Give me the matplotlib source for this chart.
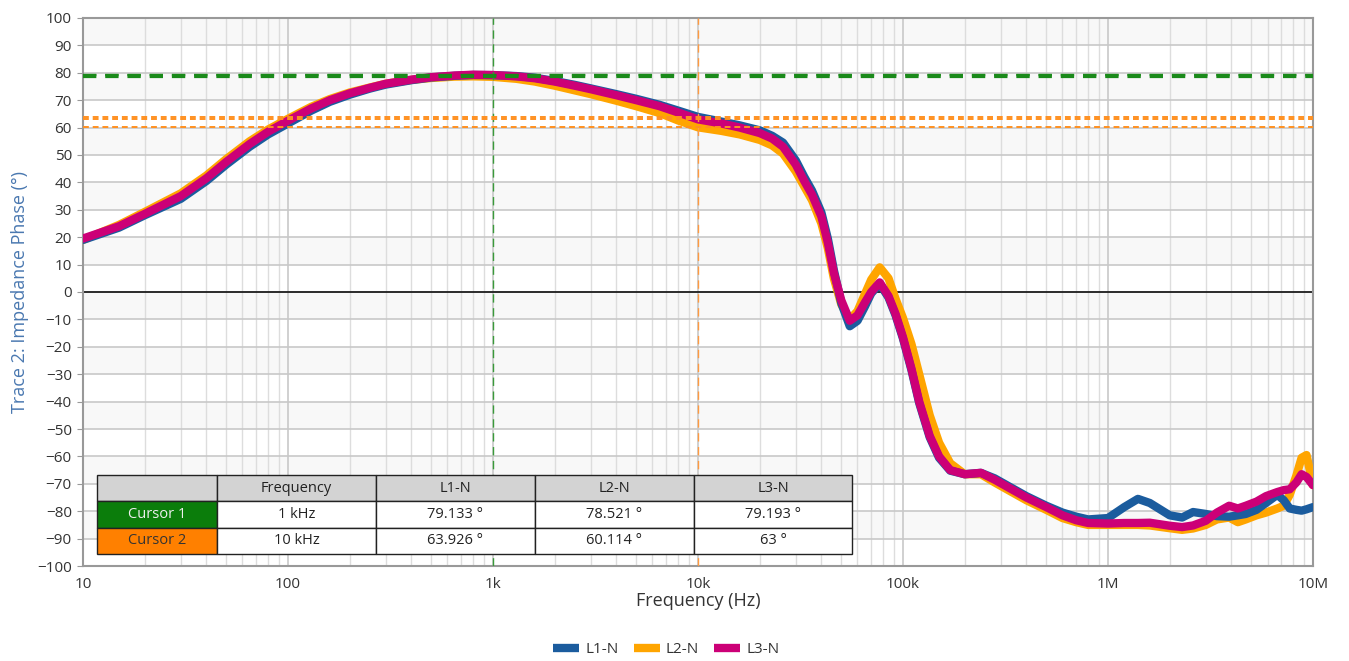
import matplotlib
matplotlib.use("Agg")
import matplotlib.pyplot as plt
from matplotlib.lines import Line2D
import numpy as np

# ---------------- data ----------------
freq_hz = [10, 15, 20, 30, 40, 50, 65, 80, 100, 130, 160, 200, 250, 300, 400, 500, 650, 800,
           1000, 1300, 1600, 2000, 2500, 3000, 4000, 5000, 6500, 8000, 10000, 13000, 16000,
           20000, 23000, 26000, 30000, 33000, 36000, 40000, 43000, 46000, 50000, 55000, 60000,
           65000, 70000, 77000, 85000, 92000, 100000, 110000, 120000, 135000, 150000, 170000,
           200000, 240000, 280000, 330000, 400000, 500000, 600000, 700000, 800000, 1000000,
           1200000, 1400000, 1600000, 2000000, 2300000, 2600000, 3000000, 3400000, 3900000,
           4300000, 4700000, 5300000, 5900000, 6700000, 7200000, 7700000, 8300000, 8800000,
           9300000, 10000000]

l1_phase = [19, 23.5, 28, 34, 40.5, 46.5, 53, 57.5, 61.5, 66.2, 69.4, 72, 74.2, 75.7, 77.3, 78.3,
            78.9, 79.2, 79.13, 78.8, 78.2, 77, 75.6, 74.3, 72.2, 70.5, 68.3, 66.2, 63.9, 62.2,
            60.8, 59, 57, 54.5, 48, 42, 37, 29, 19.5, 8, -4, -12.5, -10.5, -5.5, -0.5, 3,
            -2, -8.5, -17, -28.5, -40.5, -53, -60.5, -65.2, -66.5, -66, -68, -71, -74.5, -78,
            -80.5, -82, -83, -82.5, -78.5, -75.5, -77, -81.5, -82.3, -80.3, -81, -81.8, -82,
            -81.5, -81, -79.5, -77, -74, -76, -79, -79.5, -79.8, -79.3, -78.5]

l2_phase = [19, 24.5, 29.2, 36, 42.5, 48.5, 55, 59.3, 63.2, 67.6, 70.4, 72.8, 74.6, 76, 77.4,
            78.1, 78.6, 78.7, 78.52, 77.8, 76.8, 75.3, 73.6, 72.2, 69.8, 67.8, 65.3, 62.6, 60.1,
            58.8, 57.5, 55.5, 53.5, 50.5, 44, 38.5, 33.5, 25, 16, 5, -4.5, -10, -7, -1, 4.5, 9,
            5, -2.5, -9.5, -19, -30, -45, -55, -62.5, -66.5, -66.5, -69.5, -72.5, -76, -79.5,
            -82.5, -84, -85, -85, -85, -85, -85.2, -86.2, -86.8, -86.3, -85, -83, -82.3, -84,
            -83, -81.5, -80.5, -79, -78, -74, -67, -60.5, -59.5, -70.5]

l3_phase = [19.5, 24, 28.5, 35, 41.5, 47.5, 54, 58.5, 62.5, 67, 70, 72.5, 74.5, 76, 77.5, 78.4,
            79, 79.3, 79.19, 78.7, 78, 76.8, 75.3, 74, 71.8, 70, 67.8, 65.5, 63, 61.5, 60, 58,
            56, 53, 46.5, 40.5, 35.5, 27.5, 18, 7, -3, -10.5, -8.5, -4, 0, 3.5, -1.5, -8, -16.5,
            -28, -40, -52.5, -60, -65, -66.5, -66, -68.5, -71.5, -75, -78.5, -81.5, -83.3, -84.3,
            -84.5, -84.3, -84.3, -84.2, -85.3, -85.8, -85.2, -83.5, -80.5, -78, -79, -78,
            -76.5, -74.5, -73, -72.3, -72, -69.5, -66.5, -67.5, -70.5]

series_names = ["L1-N", "L2-N", "L3-N"]
series_colors = ["#1b5c9e", "#ffa500", "#cc0077"]

cursor1_freq = 1000
cursor2_freq = 10000
cursor1_values = [79.133, 78.521, 79.193]
cursor2_values = [63.926, 60.114, 63.0]

table_header = ["", "Frequency", "L1-N", "L2-N", "L3-N"]
table_rows = [["Cursor 1", "1 kHz", "79.133 °", "78.521 °", "79.193 °"],
              ["Cursor 2", "10 kHz", "63.926 °", "60.114 °", "63 °"]]

x_tick_vals = [10, 100, 1000, 10000, 100000, 1000000, 10000000]
x_tick_labels = ["10", "100", "1k", "10k", "100k", "1M", "10M"]

# ---------------- figure ----------------
plt.rcParams['font.family'] = ['Open Sans', 'DejaVu Sans']
fig = plt.figure(figsize=(13.49, 6.61), dpi=100)
ax = fig.add_axes([0.0615, 0.1437, 0.9118, 0.8291])

ax.set_xscale('log')
ax.set_xlim(10, 1e7)
ax.set_ylim(-100, 100)

# alternating bands
for top in range(100, -90, -20):
    ax.axhspan(top - 10, top, color='#f8f8f8', zorder=0, lw=0)

ax.set_axisbelow(True)
ax.grid(which='major', axis='both', color='#c8c8c8', lw=1.2)
ax.grid(which='minor', axis='x', color='#dddddd', lw=1.0)
ax.axhline(0, color='black', lw=1.1, zorder=1.5)

# traces
data = [l1_phase, l2_phase, l3_phase]
zorders = [4, 3, 5]
for vals, col, name, zo in zip(data, series_colors, series_names, zorders):
    ax.plot(freq_hz, vals, color=col, lw=6, solid_capstyle='round',
            solid_joinstyle='round', zorder=zo, label=name)

# cursors
ax.axvline(cursor1_freq, color='#3a9a3a', lw=1.0, ls=(0, (6, 4)), zorder=6)
ax.axvline(cursor2_freq, color='#ff9a40', lw=1.0, ls=(0, (6, 4)), zorder=6)
for v in cursor1_values:
    ax.axhline(v, color='#1a8a1a', lw=1.6, ls=(0, (6, 4)), zorder=6)
for v in cursor2_values:
    ax.axhline(v, color='#ff9020', lw=1.4, ls=(0, (3, 2)), zorder=6)

# ticks
ax.set_xticks(x_tick_vals)
ax.set_xticklabels(x_tick_labels)
ax.set_yticks(np.arange(-100, 101, 10))
ax.tick_params(axis='x', which='both', length=0, pad=8, labelsize=11, labelcolor='#333333')
ax.tick_params(axis='y', length=4, color='#999999', labelsize=11, labelcolor='#333333', pad=4)
for s in ax.spines.values():
    s.set_color('#999999')
    s.set_linewidth(1.5)

ax.set_xlabel("Frequency (Hz)", fontsize=13, color='#333333', labelpad=0)
ax.set_ylabel("Trace 2: Impedance Phase (°)", fontsize=13, color='#4a78b0', labelpad=6)

# cursor table
col_px = [120, 159, 159, 159, 158]
tot = sum(col_px)
tbl = ax.table(cellText=[table_header] + table_rows,
               cellLoc='center',
               colWidths=[c / tot for c in col_px],
               bbox=[0.0114, 0.0219, 0.6138, 0.1441], zorder=10)
tbl.auto_set_font_size(False)
tbl.set_fontsize(10.5)
for (r, c), cell in tbl.get_celld().items():
    cell.set_edgecolor('#222222')
    cell.set_linewidth(1.0)
    cell.set_facecolor('white')
    cell.get_text().set_color('#222222')
    if r == 0:
        cell.set_facecolor('#d3d3d3')
    if r == 1 and c == 0:
        cell.set_facecolor('#0b7d0b')
        cell.get_text().set_color('#f0f0f0')
    if r == 2 and c == 0:
        cell.set_facecolor('#ff8000')
        cell.get_text().set_color('#333333')

# legend
handles = [Line2D([0], [0], color=c, lw=6, solid_capstyle='butt') for c in series_colors]
fig.legend(handles, series_names, loc='center', bbox_to_anchor=(0.494, 0.017), ncol=3,
           frameon=False, fontsize=11, handlelength=1.7, handletextpad=0.4,
           columnspacing=1.0, labelcolor='#333333')

fig.savefig("out.png", dpi=100)
